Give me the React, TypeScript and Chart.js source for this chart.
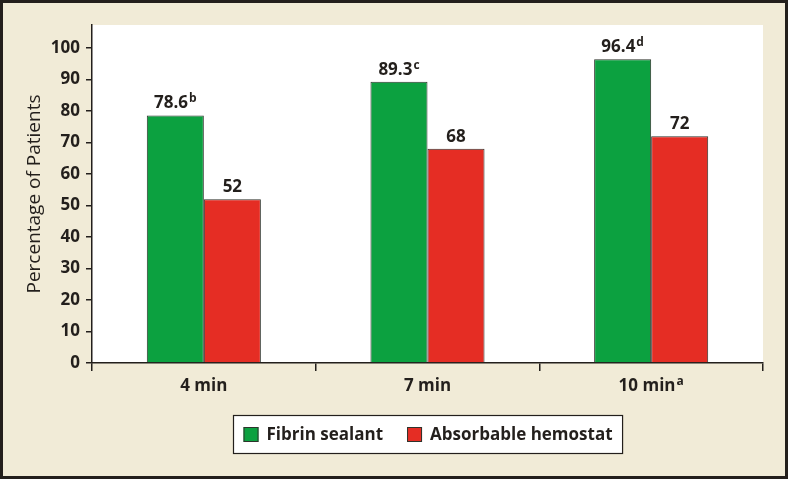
import React, { useEffect, useRef } from 'react';
import { Chart, registerables } from 'chart.js';

Chart.register(...registerables);

const categories = ['4 min', '7 min', '10 min'];
const categorySup = ['', '', 'a'];
const fibrinValues = [78.6, 89.3, 96.4];
const fibrinSup = ['b', 'c', 'd'];
const absorbableValues = [52, 68, 72];
const absorbableSup = ['', '', ''];
const yTickValues = [0, 10, 20, 30, 40, 50, 60, 70, 80, 90, 100];
const seriesNames = ['Fibrin sealant', 'Absorbable hemostat'];

const FONT = '"Open Sans", Lato, sans-serif';
const WEIGHT = 'bold';
const DARK = '#231f1c';
const BEIGE = '#f1ebd7';
const GREEN = '#0ca140';
const RED = '#e52d24';
const BAR_BORDER = '#2e332c';
const SIZE = 17;
const SUP_SIZE = 12;

function drawWithSup(c: CanvasRenderingContext2D, main: string, sup: string, cx: number, baseline: number) {
  c.font = `${WEIGHT} ${SIZE}px ${FONT}`;
  const w1 = c.measureText(main).width;
  c.font = `${WEIGHT} ${SUP_SIZE}px ${FONT}`;
  const w2 = sup ? c.measureText(sup).width + 1 : 0;
  const start = cx - (w1 + w2) / 2;
  c.textAlign = 'left';
  c.textBaseline = 'alphabetic';
  c.fillStyle = DARK;
  c.font = `${WEIGHT} ${SIZE}px ${FONT}`;
  c.fillText(main, start, baseline);
  if (sup) {
    c.font = `${WEIGHT} ${SUP_SIZE}px ${FONT}`;
    c.fillText(sup, start + w1 + 1, baseline - 6);
  }
}

export default function App() {
  const ref = useRef<HTMLCanvasElement>(null);

  useEffect(() => {
    document.body.style.margin = '0';
    const canvas = ref.current!;

    const bgPlugin = {
      id: 'bgPlugin',
      beforeDraw(chart: any) {
        const c = chart.ctx as CanvasRenderingContext2D;
        const { width, height } = chart;
        c.save();
        c.fillStyle = DARK;
        c.fillRect(0, 0, width, height);
        c.fillStyle = BEIGE;
        c.fillRect(3, 3, width - 6, height - 6);
        const a = chart.chartArea;
        c.fillStyle = '#ffffff';
        c.fillRect(a.left, a.top, a.right - a.left, a.bottom - a.top);
        c.restore();
      },
    };

    const labelPlugin = {
      id: 'labelPlugin',
      afterDraw(chart: any) {
        const c = chart.ctx as CanvasRenderingContext2D;
        c.save();
        const sups = [fibrinSup, absorbableSup];
        chart.data.datasets.forEach((ds: any, di: number) => {
          const meta = chart.getDatasetMeta(di);
          meta.data.forEach((bar: any, i: number) => {
            drawWithSup(c, String(ds.data[i]), sups[di][i], bar.x, bar.y - 7);
          });
        });
        const xs = chart.scales.x;
        categories.forEach((cat, i) => {
          drawWithSup(c, cat, categorySup[i], xs.getPixelForValue(i), 391);
        });
        // legend
        const a = chart.chartArea;
        c.font = `${WEIGHT} ${SIZE}px ${FONT}`;
        const sw = 15;
        const gapText = 8;
        const gapItem = 24;
        const padX = 10;
        const widths = seriesNames.map((n) => c.measureText(n).width);
        const total = padX * 2 + widths.reduce((s, w) => s + sw + gapText + w, 0) + gapItem;
        const cx = (a.left + a.right) / 2;
        const bx = Math.round(cx - total / 2) + 0.5;
        const by = 415.5;
        const bh = 38;
        c.fillStyle = '#ffffff';
        c.fillRect(bx, by, total, bh);
        c.strokeStyle = DARK;
        c.lineWidth = 1.2;
        c.strokeRect(bx, by, total, bh);
        let x = bx + padX;
        const colors = [GREEN, RED];
        seriesNames.forEach((n, i) => {
          c.fillStyle = colors[i];
          c.fillRect(x, 427, sw, sw);
          c.strokeStyle = BAR_BORDER;
          c.lineWidth = 1;
          c.strokeRect(x + 0.5, 427.5, sw - 1, sw - 1);
          c.fillStyle = DARK;
          c.textAlign = 'left';
          c.textBaseline = 'middle';
          c.font = `${WEIGHT} ${SIZE}px ${FONT}`;
          c.fillText(n, x + sw + gapText, 435);
          x += sw + gapText + widths[i] + gapItem;
        });
        c.restore();
      },
    };

    const chart = new Chart(canvas, {
      type: 'bar',
      data: {
        labels: categories,
        datasets: [
          {
            label: seriesNames[0],
            data: fibrinValues,
            backgroundColor: GREEN,
            borderColor: BAR_BORDER,
            borderWidth: 1,
            categoryPercentage: 0.51,
            barPercentage: 1,
          },
          {
            label: seriesNames[1],
            data: absorbableValues,
            backgroundColor: RED,
            borderColor: BAR_BORDER,
            borderWidth: 1,
            categoryPercentage: 0.51,
            barPercentage: 1,
          },
        ],
      },
      options: {
        responsive: false,
        animation: false,
        layout: { padding: { left: 0, top: 25, right: 25, bottom: 0 } },
        plugins: {
          legend: { display: false },
          tooltip: { enabled: false },
        },
        scales: {
          x: {
            offset: true,
            grid: {
              display: true,
              offset: true,
              drawOnChartArea: false,
              drawTicks: true,
              tickLength: 8,
              color: DARK,
              lineWidth: 1.5,
            },
            border: { display: true, color: DARK, width: 1.5 },
            ticks: { display: false },
            afterFit: (scale: any) => {
              scale.height = 116;
            },
          },
          y: {
            min: 0,
            max: 107.3,
            afterBuildTicks: (scale: any) => {
              scale.ticks = yTickValues.map((v) => ({ value: v }));
            },
            grid: {
              display: true,
              drawOnChartArea: false,
              drawTicks: true,
              tickLength: 6,
              color: DARK,
              lineWidth: 1.5,
            },
            border: { display: true, color: DARK, width: 1.5 },
            ticks: {
              color: DARK,
              padding: 6,
              font: { family: FONT, size: SIZE, weight: WEIGHT },
            },
            title: {
              display: true,
              text: 'Percentage of Patients',
              color: DARK,
              font: { family: FONT, size: 19, weight: 'normal' },
              padding: { top: 23, bottom: 0 },
            },
            afterFit: (scale: any) => {
              scale.width = 92;
            },
          },
        },
      },
      plugins: [bgPlugin, labelPlugin],
    } as any);

    return () => chart.destroy();
  }, []);

  return (
    <div style={{ position: 'fixed', left: 0, top: 0, width: 788, height: 479 }}>
      <canvas ref={ref} width={788} height={479} style={{ width: 788, height: 479, display: 'block' }} />
    </div>
  );
}
